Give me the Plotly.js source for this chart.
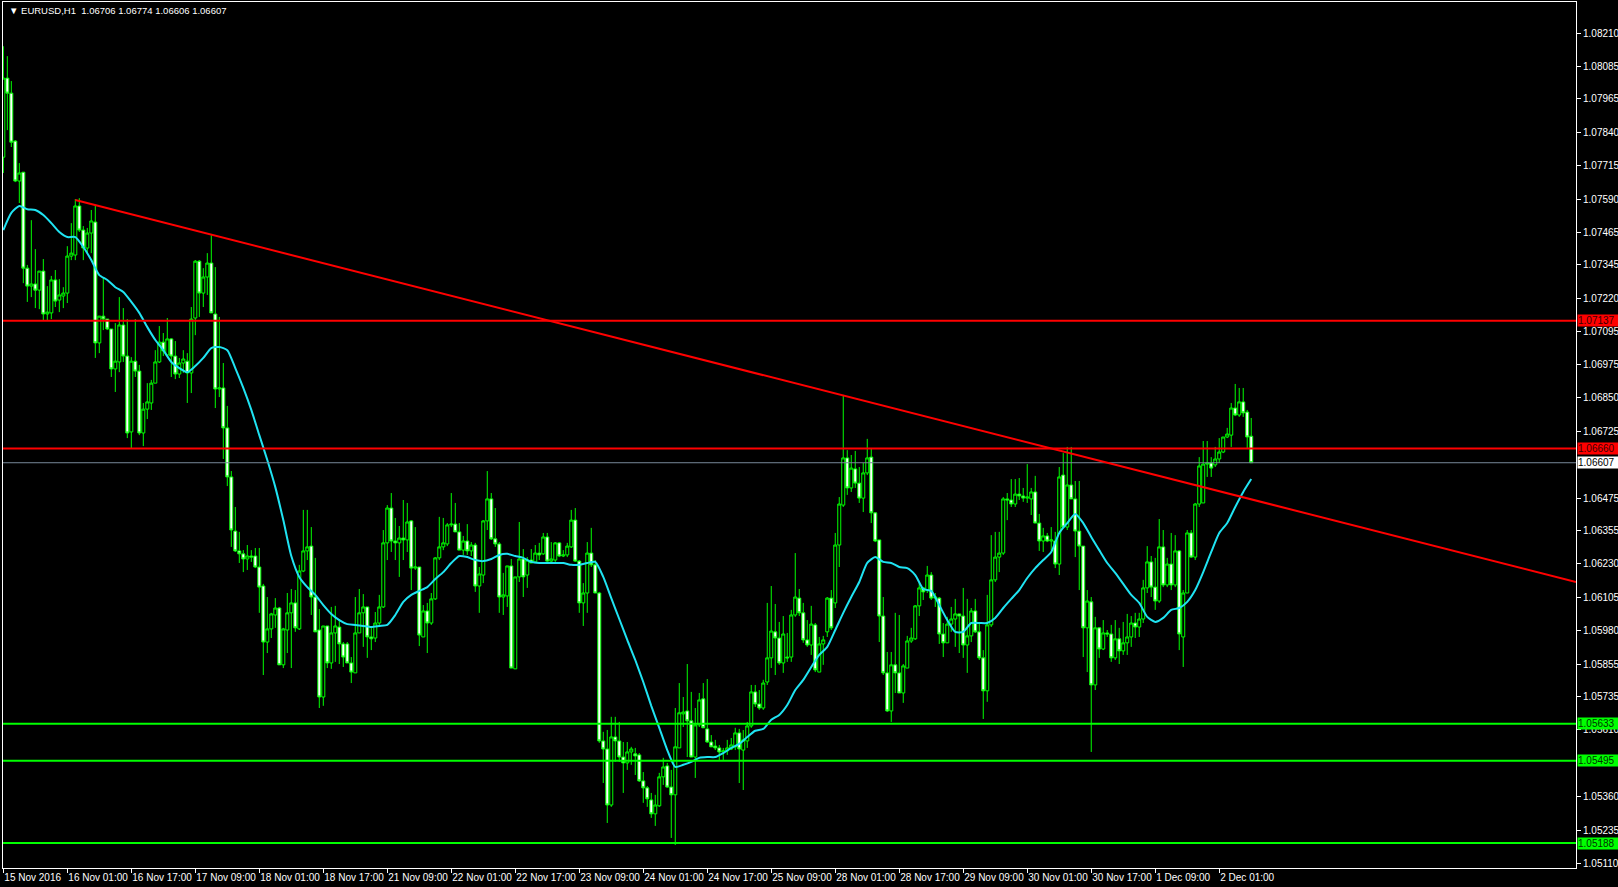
<!DOCTYPE html>
<html><head><meta charset="utf-8">
<script src="https://cdn.plot.ly/plotly-3.0.1.min.js"></script>
<style>html,body{margin:0;padding:0;background:#000;}#chart{width:1618px;height:887px;}</style>
</head><body><div id="chart"></div>
<script>
// ---- data (EURUSD H1) ----
const symbolTitle = "EURUSD,H1";
const lastBar = "1.06706 1.06774 1.06606 1.06607";
const firstBarUTC = "2016-11-15T09:00:00Z";

const open = [1.07747,1.08042,1.07986,1.07807,1.07658,1.07691,1.07333,1.07266,1.07274,1.07251,
1.07322,1.07162,1.07166,1.07289,1.07214,1.07229,1.07240,1.07378,1.07382,1.07565,
1.07475,1.07408,1.07464,1.07505,1.07054,1.07154,1.07143,1.07106,1.06957,1.06983,
1.07121,1.07005,1.06722,1.06986,1.06949,1.06718,1.06807,1.06830,1.06904,1.06983,
1.07057,1.07009,1.07069,1.07005,1.06938,1.06979,1.06986,1.06942,1.07147,1.07359,
1.07240,1.07300,1.07352,1.07162,1.06882,1.06886,1.06737,1.06554,1.06352,1.06278,
1.06267,1.06248,1.06259,1.06259,1.06218,1.06147,1.05938,1.05987,1.06039,1.06065,
1.05853,1.05983,1.06047,1.06084,1.05987,1.06203,1.06278,1.06296,1.06106,1.05983,
1.05733,1.05998,1.05860,1.05972,1.05994,1.05931,1.05931,1.05860,1.05823,1.05972,
1.06047,1.06069,1.05957,1.05953,1.06009,1.06069,1.06308,1.06438,1.06315,1.06308,
1.06326,1.06319,1.06390,1.06214,1.06218,1.05957,1.06054,1.06009,1.06099,1.06252,
1.06293,1.06304,1.06375,1.06378,1.06349,1.06281,1.06315,1.06278,1.06300,1.06147,
1.06188,1.06390,1.06472,1.06323,1.06304,1.06106,1.06110,1.06222,1.05838,1.06181,
1.06248,1.06188,1.06244,1.06237,1.06270,1.06267,1.06330,1.06240,1.06244,1.06308,
1.06259,1.06263,1.06293,1.06393,1.06240,1.06084,1.06121,1.06270,1.06226,1.06121,
1.05569,1.05539,1.05330,1.05584,1.05569,1.05509,1.05487,1.05528,1.05521,1.05517,
1.05420,1.05394,1.05349,1.05297,1.05327,1.05435,1.05476,1.05397,1.05368,1.05543,
1.05670,1.05681,1.05644,1.05509,1.05629,1.05726,1.05614,1.05565,1.05550,1.05543,
1.05528,1.05532,1.05539,1.05547,1.05599,1.05535,1.05569,1.05625,1.05752,1.05707,
1.05692,1.05789,1.05879,1.05976,1.05953,1.05860,1.05882,1.05882,1.06039,1.06102,
1.06047,1.05946,1.05927,1.06002,1.05826,1.05931,1.05976,1.06102,1.06084,1.06300,
1.06449,1.06625,1.06513,1.06584,1.06531,1.06475,1.06569,1.06628,1.06420,1.06319,
1.06035,1.05823,1.05681,1.05853,1.05823,1.05748,1.05841,1.05942,1.05950,1.06073,
1.06140,1.06132,1.06188,1.06102,1.06102,1.05968,1.05935,1.06005,1.06024,1.06043,
1.06035,1.05927,1.05961,1.06054,1.05976,1.05879,1.05756,1.06002,1.06170,1.06255,
1.06270,1.06472,1.06468,1.06453,1.06490,1.06483,1.06475,1.06472,1.06498,1.06382,
1.06315,1.06334,1.06315,1.06315,1.06229,1.06561,1.06367,1.06524,1.06472,1.06352,
1.06296,1.05991,1.06088,1.05778,1.05991,1.05912,1.05972,1.05968,1.05879,1.05950,
1.05905,1.05935,1.05957,1.06009,1.05994,1.06024,1.06140,1.06237,1.06143,1.06091,
1.06293,1.06151,1.06229,1.06151,1.06278,1.05957,1.06121,1.06345,1.06255,1.06453,
1.06457,1.06602,1.06606,1.06599,1.06621,1.06647,1.06703,1.06710,1.06811,1.06785,
1.06834,1.06796,1.06706];

const high = [1.08161,1.08124,1.08031,1.07811,1.07725,1.07691,1.07345,1.07512,1.07404,1.07322,
1.07367,1.07266,1.07304,1.07326,1.07292,1.07262,1.07415,1.07501,1.07591,1.07594,
1.07490,1.07483,1.07550,1.07565,1.07154,1.07296,1.07143,1.07106,1.07128,1.07225,
1.07184,1.07143,1.07001,1.07143,1.06972,1.06830,1.06904,1.06916,1.07027,1.07117,
1.07091,1.07147,1.07072,1.07061,1.06998,1.07027,1.07016,1.07188,1.07363,1.07363,
1.07333,1.07389,1.07456,1.07337,1.07151,1.06979,1.06819,1.06576,1.06442,1.06349,
1.06281,1.06300,1.06281,1.06289,1.06289,1.06155,1.06106,1.06047,1.06102,1.06069,
1.05991,1.06121,1.06136,1.06132,1.06226,1.06431,1.06431,1.06367,1.06252,1.06061,
1.05998,1.05998,1.06069,1.06073,1.06024,1.05938,1.05938,1.05882,1.06106,1.06136,
1.06117,1.06069,1.05994,1.06050,1.06114,1.06356,1.06449,1.06494,1.06401,1.06371,
1.06468,1.06457,1.06393,1.06367,1.06218,1.06076,1.06084,1.06121,1.06255,1.06405,
1.06401,1.06382,1.06494,1.06457,1.06382,1.06334,1.06378,1.06311,1.06308,1.06218,
1.06393,1.06576,1.06494,1.06438,1.06311,1.06196,1.06222,1.06248,1.06181,1.06386,
1.06285,1.06255,1.06285,1.06300,1.06308,1.06345,1.06345,1.06311,1.06311,1.06311,
1.06281,1.06308,1.06431,1.06438,1.06244,1.06158,1.06311,1.06364,1.06244,1.06125,
1.05603,1.05610,1.05659,1.05659,1.05640,1.05565,1.05565,1.05547,1.05543,1.05524,
1.05453,1.05401,1.05375,1.05368,1.05450,1.05506,1.05487,1.05461,1.05692,1.05785,
1.05733,1.05856,1.05752,1.05692,1.05748,1.05785,1.05800,1.05591,1.05573,1.05554,
1.05543,1.05573,1.05580,1.05618,1.05614,1.05610,1.05640,1.05778,1.05778,1.05759,
1.05797,1.06084,1.06147,1.06080,1.06013,1.06035,1.05972,1.06058,1.06270,1.06136,
1.06084,1.06020,1.06073,1.06009,1.05957,1.05961,1.06106,1.06132,1.06345,1.06479,
1.06860,1.06654,1.06636,1.06651,1.06591,1.06606,1.06696,1.06662,1.06423,1.06319,
1.06106,1.05901,1.05901,1.06047,1.06039,1.05856,1.05961,1.05991,1.06076,1.06158,
1.06143,1.06222,1.06199,1.06121,1.06106,1.06009,1.06032,1.06069,1.06099,1.06043,
1.06140,1.06099,1.06065,1.06099,1.06009,1.05908,1.06114,1.06337,1.06349,1.06349,
1.06479,1.06494,1.06546,1.06546,1.06550,1.06513,1.06602,1.06513,1.06558,1.06416,
1.06364,1.06345,1.06367,1.06349,1.06591,1.06643,1.06666,1.06666,1.06539,1.06539,
1.06296,1.06132,1.06106,1.06032,1.05994,1.06020,1.05983,1.06002,1.06020,1.05991,
1.06013,1.06043,1.06035,1.06047,1.06047,1.06170,1.06296,1.06259,1.06252,1.06397,
1.06356,1.06252,1.06345,1.06337,1.06281,1.06132,1.06356,1.06356,1.06457,1.06628,
1.06688,1.06688,1.06628,1.06666,1.06699,1.06703,1.06737,1.06830,1.06901,1.06886,
1.06886,1.06804,1.06774];

const low = [1.07688,1.07848,1.07785,1.07654,1.07576,1.07277,1.07207,1.07225,1.07184,1.07180,
1.07139,1.07139,1.07143,1.07188,1.07169,1.07184,1.07203,1.07363,1.07363,1.07468,
1.07363,1.07389,1.07389,1.06998,1.07016,1.07102,1.07102,1.06927,1.06871,1.06945,
1.06983,1.06699,1.06662,1.06927,1.06710,1.06669,1.06770,1.06804,1.06904,1.06979,
1.07005,1.07005,1.06927,1.06919,1.06923,1.06942,1.06830,1.06867,1.07083,1.07151,
1.07188,1.07233,1.07166,1.06811,1.06852,1.06621,1.06520,1.06293,1.06274,1.06233,
1.06199,1.06207,1.06237,1.06214,1.06047,1.05815,1.05897,1.05953,1.05991,1.05853,
1.05841,1.05897,1.05841,1.05976,1.05983,1.06199,1.06244,1.06039,1.05976,1.05692,
1.05700,1.05841,1.05838,1.05864,1.05856,1.05845,1.05860,1.05785,1.05823,1.05972,
1.05920,1.05879,1.05908,1.05938,1.05994,1.06065,1.06244,1.06274,1.06244,1.06181,
1.06244,1.06274,1.06132,1.06207,1.05923,1.05957,1.05897,1.06002,1.06095,1.06244,
1.06281,1.06296,1.06367,1.06349,1.06281,1.06263,1.06263,1.06259,1.06125,1.06047,
1.06158,1.06356,1.06319,1.06293,1.06047,1.06039,1.06069,1.05841,1.05838,1.06162,
1.06106,1.06140,1.06233,1.06237,1.06244,1.06263,1.06237,1.06233,1.06237,1.06255,
1.06255,1.06255,1.06289,1.06237,1.06047,1.05998,1.06047,1.06218,1.06121,1.05562,
1.05412,1.05263,1.05323,1.05491,1.05491,1.05375,1.05461,1.05480,1.05442,1.05416,
1.05338,1.05323,1.05282,1.05252,1.05323,1.05405,1.05394,1.05207,1.05181,1.05543,
1.05621,1.05509,1.05509,1.05431,1.05621,1.05618,1.05562,1.05547,1.05535,1.05498,
1.05498,1.05517,1.05535,1.05535,1.05412,1.05386,1.05543,1.05618,1.05696,1.05685,
1.05685,1.05778,1.05841,1.05815,1.05853,1.05823,1.05864,1.05864,1.06032,1.06035,
1.05935,1.05920,1.05890,1.05826,1.05826,1.05853,1.05957,1.05983,1.06065,1.06218,
1.06442,1.06487,1.06498,1.06513,1.06457,1.06423,1.06561,1.06382,1.06311,1.05938,
1.05815,1.05677,1.05640,1.05748,1.05748,1.05711,1.05841,1.05935,1.05946,1.06035,
1.06095,1.06121,1.06095,1.06069,1.05931,1.05882,1.05935,1.05976,1.05920,1.05897,
1.05879,1.05823,1.05938,1.05972,1.05871,1.05651,1.05715,1.05994,1.06162,1.06199,
1.06263,1.06393,1.06442,1.06442,1.06468,1.06461,1.06457,1.06412,1.06382,1.06278,
1.06274,1.06311,1.06281,1.06214,1.06188,1.06364,1.06356,1.06472,1.06255,1.06132,
1.05882,1.05826,1.05528,1.05759,1.05879,1.05908,1.05957,1.05864,1.05871,1.05856,
1.05890,1.05890,1.05920,1.05953,1.05957,1.06009,1.06121,1.06106,1.06058,1.06084,
1.06143,1.06143,1.06132,1.06143,1.05908,1.05845,1.06121,1.06252,1.06244,1.06442,
1.06457,1.06554,1.06554,1.06591,1.06606,1.06643,1.06699,1.06666,1.06781,1.06778,
1.06778,1.06658,1.06606];

const close = [1.08042,1.07986,1.07803,1.07658,1.07688,1.07333,1.07266,1.07274,1.07251,1.07322,
1.07162,1.07169,1.07289,1.07210,1.07233,1.07240,1.07378,1.07389,1.07565,1.07475,
1.07408,1.07464,1.07509,1.07054,1.07154,1.07143,1.07106,1.06957,1.06986,1.07121,
1.07005,1.06718,1.06986,1.06949,1.06718,1.06807,1.06834,1.06904,1.06983,1.07057,
1.07024,1.07069,1.07005,1.06938,1.06979,1.06994,1.06942,1.07143,1.07359,1.07240,
1.07300,1.07352,1.07166,1.06882,1.06886,1.06737,1.06554,1.06356,1.06278,1.06267,
1.06248,1.06259,1.06255,1.06218,1.06143,1.05938,1.05987,1.06043,1.06065,1.05853,
1.05987,1.06047,1.06084,1.05991,1.06203,1.06278,1.06293,1.06106,1.05976,1.05733,
1.05998,1.05860,1.05972,1.05998,1.05931,1.05882,1.05860,1.05826,1.05972,1.06047,
1.06069,1.05957,1.05950,1.06009,1.06069,1.06308,1.06438,1.06315,1.06308,1.06326,
1.06319,1.06386,1.06214,1.06218,1.05964,1.06054,1.06009,1.06099,1.06252,1.06293,
1.06308,1.06375,1.06378,1.06349,1.06281,1.06315,1.06278,1.06300,1.06147,1.06192,
1.06390,1.06472,1.06323,1.06304,1.06106,1.06114,1.06222,1.05841,1.06181,1.06248,
1.06181,1.06244,1.06233,1.06270,1.06263,1.06330,1.06240,1.06248,1.06308,1.06259,
1.06263,1.06296,1.06393,1.06240,1.06084,1.06121,1.06270,1.06226,1.06121,1.05569,
1.05539,1.05330,1.05584,1.05569,1.05509,1.05487,1.05528,1.05539,1.05513,1.05420,
1.05394,1.05353,1.05297,1.05330,1.05435,1.05472,1.05397,1.05368,1.05547,1.05674,
1.05677,1.05644,1.05509,1.05629,1.05722,1.05618,1.05565,1.05547,1.05543,1.05528,
1.05532,1.05543,1.05554,1.05599,1.05539,1.05573,1.05625,1.05752,1.05707,1.05692,
1.05785,1.05879,1.05979,1.05953,1.05860,1.05968,1.05879,1.06039,1.06106,1.06047,
1.05946,1.05927,1.06005,1.05834,1.05931,1.05946,1.06102,1.05991,1.06300,1.06453,
1.06625,1.06513,1.06587,1.06531,1.06475,1.06569,1.06625,1.06420,1.06315,1.06035,
1.05823,1.05681,1.05853,1.05823,1.05748,1.05849,1.05942,1.05953,1.06073,1.06140,
1.06125,1.06188,1.06102,1.06106,1.05968,1.05935,1.06005,1.06024,1.06043,1.06035,
1.05927,1.05961,1.06054,1.05976,1.05879,1.05756,1.06002,1.06170,1.06255,1.06270,
1.06472,1.06468,1.06453,1.06490,1.06483,1.06475,1.06479,1.06498,1.06382,1.06315,
1.06334,1.06315,1.06319,1.06229,1.06554,1.06367,1.06524,1.06472,1.06352,1.06296,
1.05991,1.06091,1.05778,1.05991,1.05912,1.05972,1.05968,1.05879,1.05950,1.05905,
1.05935,1.05957,1.06009,1.05994,1.06024,1.06140,1.06237,1.06143,1.06091,1.06293,
1.06151,1.06229,1.06151,1.06278,1.05968,1.06121,1.06345,1.06255,1.06453,1.06595,
1.06602,1.06606,1.06587,1.06621,1.06647,1.06703,1.06714,1.06811,1.06785,1.06834,
1.06793,1.06703,1.06607];

// moving average (cyan), read every second bar
const maBars = [0,2,4,6,8,10,12,14,16,18,20,22,24,26,28,30,32,34,36,38,40,42,44,46,48,50,52,54,56,58,
60,62,64,66,68,70,72,74,76,78,80,82,84,86,88,90,92,94,96,98,100,102,104,106,108,110,112,114,116,118,
120,122,124,126,128,130,132,134,136,138,140,142,144,146,148,150,152,154,156,158,160,162,164,166,168,170,
172,174,176,178,180,182,184,186,188,190,192,194,196,198,200,202,204,206,208,210,212,214,216,218,220,222,
224,226,228,230,232,234,236,238,240,242,244,246,248,250,252,254,256,258,260,262,264,266,268,270,272,274,
276,278,280,282,284,286,288,290,292,294,296,298,300,302,304,306,308,310,312];
const maValues = [1.07475,1.07539,1.07565,1.07553,1.07550,1.07531,1.07501,1.07468,1.07449,1.07449,
1.07412,1.07363,1.07307,1.07289,1.07262,1.07244,1.07207,1.07166,1.07113,1.07065,
1.07027,1.06983,1.06960,1.06945,1.06968,1.06998,1.07035,1.07039,1.07027,1.06960,
1.06886,1.06804,1.06710,1.06617,1.06516,1.06393,1.06259,1.06181,1.06143,1.06114,
1.06076,1.06043,1.06020,1.06005,1.06002,1.05998,1.05994,1.05998,1.06002,1.06039,
1.06088,1.06114,1.06129,1.06143,1.06173,1.06199,1.06233,1.06259,1.06255,1.06244,
1.06240,1.06248,1.06263,1.06267,1.06259,1.06252,1.06237,1.06233,1.06233,1.06233,
1.06233,1.06226,1.06226,1.06233,1.06237,1.06181,1.06102,1.06024,1.05946,1.05871,
1.05789,1.05700,1.05618,1.05535,1.05472,1.05480,1.05491,1.05506,1.05509,1.05509,
1.05524,1.05543,1.05558,1.05584,1.05607,1.05614,1.05648,1.05666,1.05703,1.05759,
1.05797,1.05845,1.05890,1.05920,1.05983,1.06047,1.06106,1.06162,1.06233,1.06255,
1.06237,1.06233,1.06218,1.06214,1.06188,1.06136,1.06129,1.06076,1.06020,1.05976,
1.05976,1.06009,1.06009,1.06009,1.06028,1.06065,1.06099,1.06132,1.06177,1.06214,
1.06244,1.06274,1.06345,1.06382,1.06416,1.06382,1.06330,1.06281,1.06233,1.06196,
1.06155,1.06114,1.06084,1.06032,1.06013,1.06028,1.06058,1.06065,1.06088,1.06132,
1.06199,1.06274,1.06345,1.06382,1.06442,1.06498,1.06546];

// horizontal levels and trend line
const resistanceLevels = [1.07137, 1.06660];
const supportLevels = [1.05633, 1.05495, 1.05188];
const bidPrice = 1.06607;
const trendStart = {bar: 18, price: 1.07587};
const trendEnd = {bar: 393.2, price: 1.06162};

// axis ticks (the ones hidden under the level labels are omitted)
const priceTicks = [1.08210,1.08085,1.07965,1.07840,1.07715,1.07590,1.07465,1.07345,1.07220,1.07095,
1.06975,1.06850,1.06725,1.06475,1.06355,1.06230,1.06105,1.05980,1.05855,1.05735,1.05610,
1.05360,1.05235,1.05110];
const timeTickBars = [0,16,32,48,64,80,96,112,128,144,160,176,192,208,224,240,256,272,288,304];
const timeTickLabels = ["15 Nov 2016","16 Nov 01:00","16 Nov 17:00","17 Nov 09:00","18 Nov 01:00",
"18 Nov 17:00","21 Nov 09:00","22 Nov 01:00","22 Nov 17:00","23 Nov 09:00","24 Nov 01:00",
"24 Nov 17:00","25 Nov 09:00","28 Nov 01:00","28 Nov 17:00","29 Nov 09:00","30 Nov 01:00",
"30 Nov 17:00","1 Dec 09:00","2 Dec 01:00"];

// hourly bar times (trading hours only, weekends skipped like the terminal)
function pad(n){return (n<10?'0':'')+n;}
const times = [];
let t = Date.parse(firstBarUTC);
while (times.length < open.length) {
  const d = new Date(t);
  const wd = d.getUTCDay();
  if (wd !== 0 && wd !== 6) {
    times.push(d.getUTCFullYear()+'-'+pad(d.getUTCMonth()+1)+'-'+pad(d.getUTCDate())+' '+pad(d.getUTCHours())+':00');
  }
  t += 3600000;
}

const FONT = 'Liberation Sans, Arial, sans-serif';
const lime = '#00ff00';

const candles = {
  type: 'candlestick',
  x: times, open: open, high: high, low: low, close: close,
  increasing: {line: {color: lime, width: 1}, fillcolor: '#000000'},
  decreasing: {line: {color: lime, width: 1}, fillcolor: '#ffffff'},
  whiskerwidth: 0,
  hoverinfo: 'skip',
  showlegend: false
};
const ma = {
  type: 'scatter', mode: 'lines',
  x: maBars.map(i => times[i]), y: maValues,
  line: {color: '#1fe3f2', width: 2, shape: 'spline', smoothing: 0.6},
  hoverinfo: 'skip', showlegend: false
};

const shapes = [];
const annotations = [];
function levelLabel(p, bg, fg) {
  annotations.push({xref:'paper', x:1, xanchor:'left', xshift:1, yref:'y', y:p, yanchor:'middle',
    text:p.toFixed(5), showarrow:false, bgcolor:bg, font:{family:FONT, size:10, color:fg},
    width:40, height:11, align:'left', borderpad:0});
}
resistanceLevels.forEach(p => {
  shapes.push({type:'line', xref:'paper', x0:0, x1:1, yref:'y', y0:p, y1:p, line:{color:'#ff0000', width:2}});
  levelLabel(p, '#ff0000', '#3a0000');
});
supportLevels.forEach(p => {
  shapes.push({type:'line', xref:'paper', x0:0, x1:1, yref:'y', y0:p, y1:p, line:{color:lime, width:2}});
  levelLabel(p, lime, '#003300');
});
shapes.push({type:'line', xref:'paper', x0:0, x1:1, yref:'y', y0:bidPrice, y1:bidPrice, line:{color:'#778899', width:1}});
levelLabel(bidPrice, '#ffffff', '#000000');
shapes.push({type:'line', xref:'x', yref:'y', x0:trendStart.bar, y0:trendStart.price, x1:trendEnd.bar, y1:trendEnd.price,
  line:{color:'#ff0000', width:2}});

annotations.push({xref:'paper', yref:'paper', x:0, y:1, xanchor:'left', yanchor:'top', xshift:4, yshift:-1,
  text:'\u25BC '+symbolTitle+'  '+lastBar, showarrow:false, font:{family:FONT, size:9.5, color:'#ffffff'}});

const layout = {
  width: 1618, height: 887,
  margin: {l:3, r:42, t:2, b:19, pad:0},
  paper_bgcolor: '#000000', plot_bgcolor: '#000000',
  showlegend: false, hovermode: false,
  boxgap: 0.25, boxgroupgap: 0,
  xaxis: {
    type: 'category', range: [-0.08, 393.2], rangeslider: {visible:false},
    showgrid: false, zeroline: false,
    showline: true, linecolor: '#ffffff', linewidth: 1, mirror: true,
    ticks: 'outside', ticklen: 4, tickcolor: '#ffffff', tickwidth: 1,
    tickmode: 'array', tickvals: timeTickBars.map(i => times[i]), ticktext: timeTickLabels,
    tickangle: 0, automargin: false,
    ticklabelposition: 'outside right',
    tickfont: {family: FONT, size: 10, color: '#ffffff'}
  },
  yaxis: {
    side: 'right', range: [1.05095, 1.08326], fixedrange: true, automargin: false,
    showgrid: false, zeroline: false,
    showline: true, linecolor: '#ffffff', linewidth: 1, mirror: true,
    ticks: 'outside', ticklen: 4, tickcolor: '#ffffff', tickwidth: 1,
    tickmode: 'array', tickvals: priceTicks, ticktext: priceTicks.map(v => v.toFixed(5)),
    tickfont: {family: FONT, size: 10, color: '#ffffff'}
  },
  shapes: shapes,
  annotations: annotations
};

Plotly.newPlot('chart', [candles, ma], layout, {displayModeBar:false, staticPlot:true});
</script>
</body></html>
